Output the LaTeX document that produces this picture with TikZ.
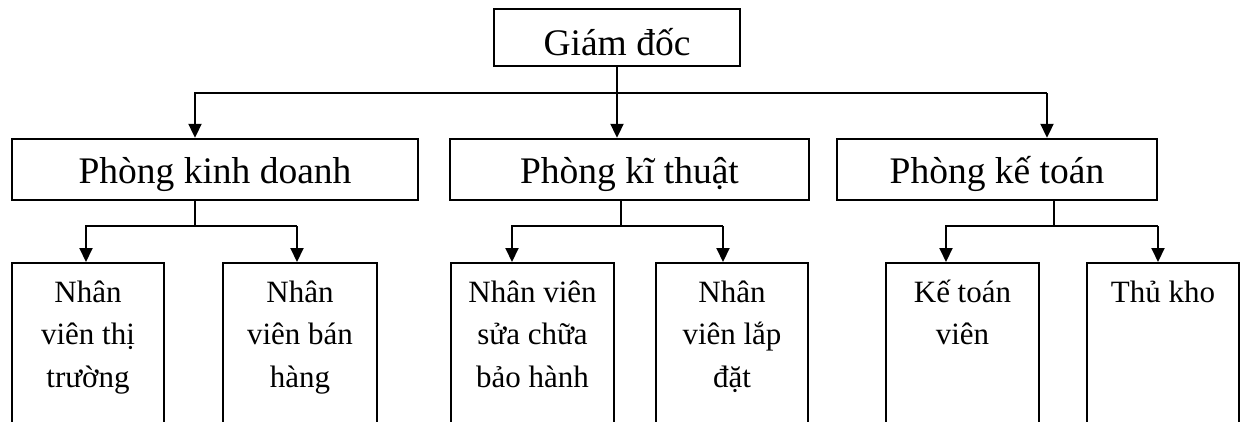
\documentclass[tikz,border=0pt]{standalone}
\usepackage{fontspec}
\setmainfont{Liberation Serif}
\usetikzlibrary{arrows.meta}
\newcommand{\stack}[1]{\parbox[t]{160pt}{\centering #1}}
\begin{document}
\begin{tikzpicture}[x=1pt,y=-1pt,
  frame/.style={draw, line width=2.4pt, inner sep=0pt},
  link/.style={line width=2pt},
  arr/.style={link, -{Triangle[width=13pt,length=14pt]}},
  big/.style={font=\fontsize{37.5}{45}\selectfont},
  unit/.style={frame, anchor=north, minimum height=190pt},
  small/.style={font=\fontsize{31}{42.5}\selectfont, anchor=base, inner sep=0pt},
]
\clip (0,0) rectangle (1245,421);

% director
\node[frame, big, minimum width=246pt, minimum height=57pt,
      text height=35pt, text depth=0pt] (gd) at (617,37.5) {Giám đốc};

% departments
\node[frame, big, minimum width=406pt, minimum height=61pt,
      text height=27pt, text depth=0pt] (kd) at (215,169.5) {Phòng kinh doanh};
\node[frame, big, minimum width=359pt, minimum height=61pt,
      text height=27pt, text depth=0pt] (kt) at (629.5,169.5) {Phòng kĩ thuật};
\node[frame, big, minimum width=320pt, minimum height=61pt,
      text height=27pt, text depth=0pt] (ktoan) at (997,169.5) {Phòng kế toán};

% staff boxes
\node[unit, minimum width=152pt] (b1) at (88,262) {};
\node[unit, minimum width=154pt] (b2) at (300,262) {};
\node[unit, minimum width=163pt] (b3) at (532.5,262) {};
\node[unit, minimum width=152pt] (b4) at (732,262) {};
\node[unit, minimum width=153pt] (b5) at (962.5,262) {};
\node[unit, minimum width=152pt] (b6) at (1163,262) {};

\node[small] (t1) at ([yshift=-40pt]b1.north) {\stack{Nhân\\viên thị\\trường}};
\node[small] (t2) at ([yshift=-40pt]b2.north) {\stack{Nhân\\viên bán\\hàng}};
\node[small] (t3) at ([yshift=-40pt]b3.north) {\stack{Nhân viên\\sửa chữa\\bảo hành}};
\node[small] (t4) at ([yshift=-40pt]b4.north) {\stack{Nhân\\viên lắp\\đặt}};
\node[small] (t5) at ([yshift=-40pt]b5.north) {\stack{Kế toán\\viên}};
\node[small] (t6) at ([yshift=-40pt]b6.north) {\stack{Thủ kho}};

% top-level bus
\coordinate (busL) at (195,93);
\coordinate (busR) at (1047,93);
\draw[arr] (gd.south) -- (gd.south |- kt.north);
\draw[arr] (busR) -- (busL) -- (busL |- kd.north);
\draw[arr] (busL -| busR) -- (busR |- ktoan.north);

% sales branch
\coordinate (kdJ) at (195,226);
\coordinate (kdA) at (86,226);
\coordinate (kdB) at (297,226);
\draw[link] (kdJ |- kd.south) -- (kdJ);
\draw[arr] (kdB) -- (kdA) -- (kdA |- b1.north);
\draw[arr] (kdB) -- (kdB |- b2.north);

% technical branch
\coordinate (ktJ) at (621,226);
\coordinate (ktA) at (512,226);
\coordinate (ktB) at (723,226);
\draw[link] (ktJ |- kt.south) -- (ktJ);
\draw[arr] (ktB) -- (ktA) -- (ktA |- b3.north);
\draw[arr] (ktB) -- (ktB |- b4.north);

% accounting branch
\coordinate (acJ) at (1054,226);
\coordinate (acA) at (946,226);
\coordinate (acB) at (1158,226);
\draw[link] (acJ |- ktoan.south) -- (acJ);
\draw[arr] (acB) -- (acA) -- (acA |- b5.north);
\draw[arr] (acB) -- (acB |- b6.north);
\end{tikzpicture}
\end{document}
